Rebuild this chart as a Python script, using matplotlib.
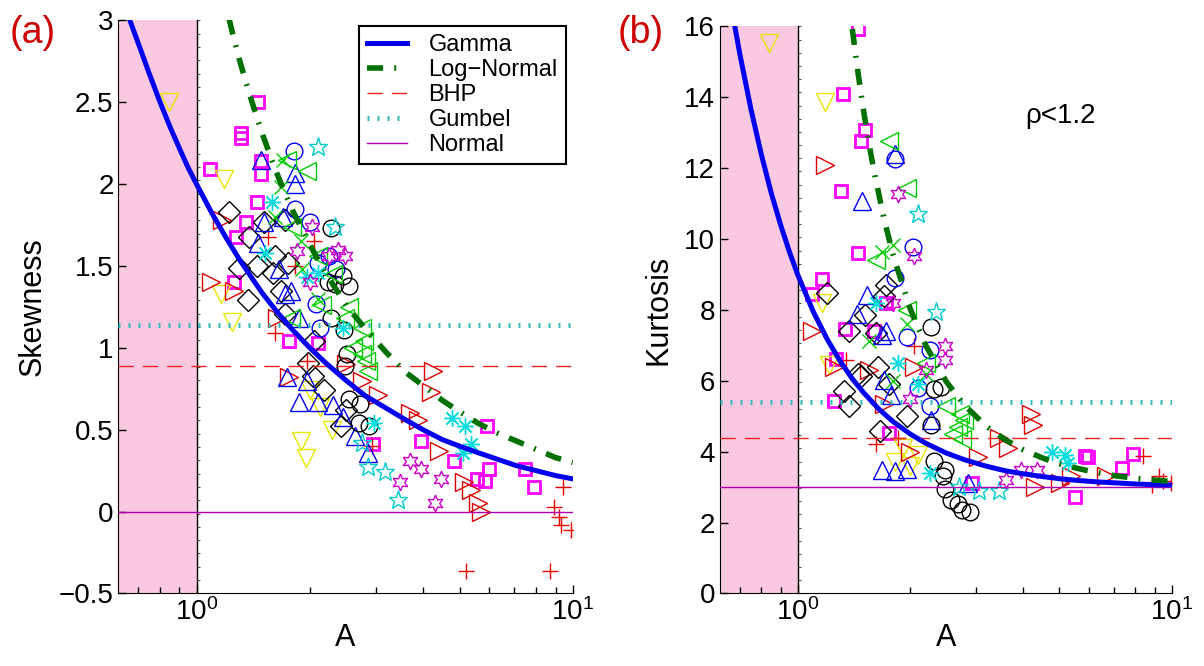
import math
import matplotlib
matplotlib.use('Agg')
import matplotlib.pyplot as plt

plt.rcParams['font.family'] = ['Liberation Sans', 'DejaVu Sans']
plt.rcParams['mathtext.fontset'] = 'custom'
plt.rcParams['mathtext.rm'] = 'Liberation Sans'

# ---- theoretical curves ----
gamma_skew_A = [0.665, 0.7, 0.75, 0.8, 0.85, 0.9, 0.95, 1.0, 1.1, 1.2, 1.3, 1.4, 1.5, 1.65, 1.8,
                2.0, 2.2, 2.5, 2.8, 3.2, 3.6, 4.0, 4.5, 5.0, 5.6, 6.3, 7.1, 8.0, 9.0, 10.0]
gamma_skew = [3.0, 2.86, 2.67, 2.5, 2.35, 2.22, 2.1, 2.0, 1.82, 1.67, 1.54, 1.43, 1.33, 1.21, 1.11,
              1.0, 0.91, 0.8, 0.71, 0.63, 0.56, 0.5, 0.44, 0.4, 0.36, 0.32, 0.28, 0.25, 0.22, 0.2]
gamma_kurt_A = [0.68, 0.7, 0.75, 0.8, 0.85, 0.9, 0.95, 1.0, 1.1, 1.2, 1.3, 1.4, 1.5, 1.65, 1.8,
                2.0, 2.2, 2.5, 2.8, 3.2, 3.6, 4.0, 4.5, 5.0, 5.6, 6.3, 7.1, 8.0, 9.0, 10.0]
gamma_kurt = [15.98, 15.24, 13.67, 12.38, 11.30, 10.41, 9.65, 9.0, 7.96, 7.17, 6.55, 6.06, 5.67, 5.20, 4.85,
              4.5, 4.24, 3.96, 3.77, 3.59, 3.46, 3.38, 3.30, 3.24, 3.19, 3.15, 3.12, 3.09, 3.07, 3.06]
logn_skew_A = [1.22, 1.25, 1.3, 1.35, 1.4, 1.5, 1.6, 1.7, 1.8, 2.0, 2.2, 2.5, 2.8, 3.2, 3.6,
               4.0, 4.5, 5.0, 5.6, 6.3, 7.1, 8.0, 9.0, 10.0]
logn_skew = [3.01, 2.91, 2.76, 2.63, 2.51, 2.30, 2.12, 1.97, 1.84, 1.63, 1.46, 1.26, 1.12, 0.97, 0.85,
             0.77, 0.68, 0.61, 0.54, 0.48, 0.43, 0.38, 0.33, 0.30]
logn_kurt_A = [1.40, 1.45, 1.5, 1.55, 1.6, 1.7, 1.8, 2.0, 2.2, 2.5, 2.8, 3.2, 3.6, 4.0, 4.5,
               5.0, 5.6, 6.3, 7.1, 8.0, 9.0, 10.0]
logn_kurt = [15.93, 14.70, 13.64, 12.72, 11.92, 10.60, 9.55, 8.03, 7.00, 5.97, 5.30, 4.71, 4.33, 4.06, 3.83,
             3.66, 3.53, 3.41, 3.32, 3.25, 3.20, 3.16]
bhp_skew, gumbel_skew, normal_skew = 0.89, 1.14, 0.0
bhp_kurt, gumbel_kurt, normal_kurt = 4.4, 5.4, 3.0

# ---- data points, panel (a): skewness ----
sq_a_A = [1.455, 1.315, 1.315, 1.086, 1.48, 1.48, 1.45, 1.35, 1.27, 1.26, 1.76, 2.1, 2.95, 3.94, 4.83,
          5.93, 5.57, 5.84, 5.98, 7.46, 7.87]
sq_a_S = [2.50, 2.31, 2.28, 2.09, 2.14, 2.06, 1.89, 1.77, 1.68, 1.40, 1.04, 1.03, 0.41, 0.43, 0.31,
          0.52, 0.20, 0.19, 0.26, 0.26, 0.15]
yv_a_A = [0.843, 1.18, 1.16, 1.24, 1.89, 1.95, 2.0, 2.13, 2.29]
yv_a_S = [2.50, 2.03, 1.33, 1.16, 0.43, 0.33, 0.74, 0.64, 0.50]
rr_a_A = [1.09, 1.26, 1.17, 1.64, 1.76, 2.75, 3.03, 3.69, 3.87, 4.25, 4.2, 4.4, 5.13, 5.37, 5.6, 5.7, 2.5]
rr_a_S = [1.40, 1.35, 1.78, 1.18, 0.82, 0.80, 0.71, 0.60, 0.56, 0.86, 0.73, 0.37, 0.18, 0.13, 0.05, 0.0, 0.9]
rp_a_A = [5.19, 8.69, 9.4, 8.9, 9.2, 9.3, 9.9, 2.92, 2.05, 1.83, 1.55, 1.96, 1.62]
rp_a_S = [-0.36, -0.36, 0.15, 0.03, -0.03, -0.08, -0.11, 0.40, 1.65, 1.50, 1.68, 0.92, 1.09]
kd_a_A = [1.22, 1.38, 1.30, 1.37, 1.51, 1.62, 1.60, 1.72, 1.68, 1.72, 2.05, 1.98, 2.04, 2.18, 2.42, 2.5,
          1.45, 1.75]
kd_a_S = [1.83, 1.68, 1.49, 1.29, 1.77, 1.56, 1.46, 1.78, 1.35, 1.21, 1.04, 0.91, 0.83, 0.74, 0.52, 0.62,
          1.50, 1.52]
bt_a_A = [1.48, 1.83, 1.83, 1.70, 1.51, 1.46, 1.66, 1.78, 1.72, 1.87, 1.74, 1.96, 1.87, 2.10, 2.31, 2.63,
          2.85, 2.45]
bt_a_S = [2.15, 2.07, 2.0, 1.80, 1.77, 1.64, 1.48, 1.35, 1.33, 1.18, 0.82, 0.80, 0.67, 0.67, 0.65, 0.46,
          0.36, 0.58]
bo_a_A = [1.82, 1.83, 2.0, 2.08, 2.13, 2.25, 2.1, 2.35]
bo_a_S = [2.20, 1.85, 1.77, 1.27, 1.12, 1.56, 1.52, 1.48]
ko_a_A = [2.28, 2.24, 2.33, 2.45, 2.54, 2.28, 2.46, 2.51, 2.48, 2.54, 2.72, 2.71, 2.88]
ko_a_S = [1.73, 1.40, 1.39, 1.44, 1.38, 1.18, 1.11, 0.96, 0.89, 0.69, 0.66, 0.54, 0.52]
gl_a_A = [1.96, 1.74, 1.79, 2.1, 2.15, 2.54, 2.75, 2.79, 2.75, 2.85, 2.82, 2.48, 1.78, 2.3, 2.6]
gl_a_S = [2.08, 2.15, 1.74, 1.56, 1.26, 1.25, 1.12, 1.04, 0.96, 0.86, 0.92, 1.18, 1.18, 1.45, 1.0]
gx_a_A = [1.68, 1.70, 1.62, 1.91, 2.1, 1.9]
gx_a_S = [1.98, 2.15, 1.80, 1.48, 1.30, 1.65]
ca_a_A = [1.59, 1.52, 2.1, 1.96, 4.78, 5.18, 5.37, 5.12, 2.96, 2.45]
ca_a_S = [1.89, 1.58, 1.46, 1.43, 0.57, 0.52, 0.41, 0.36, 0.54, 1.12]
cs_a_A = [2.1, 2.34, 2.85, 3.17, 3.44, 2.75]
cs_a_S = [2.23, 1.74, 0.27, 0.24, 0.07, 0.42]
mh_a_A = [2.03, 1.85, 2.25, 2.48, 2.38, 3.69, 3.96, 3.48, 4.46, 4.3, 2.0]
mh_a_S = [1.74, 1.59, 1.56, 1.56, 1.60, 0.31, 0.26, 0.18, 0.20, 0.05, 1.40]

# ---- data points, panel (b): kurtosis ----
sq_b_A = [1.45, 1.32, 1.51, 1.48, 1.31, 1.45, 1.16, 1.09, 1.34, 1.25, 1.60, 1.75, 5.52, 5.85, 5.99,
          7.35, 7.86, 2.92, 1.27, 1.72]
sq_b_K = [15.93, 14.1, 13.07, 12.77, 11.35, 9.61, 8.86, 8.46, 7.45, 5.42, 7.41, 4.54, 2.71, 3.88, 3.86,
          3.55, 3.94, 3.13, 6.63, 8.2]
yv_b_A = [0.84, 1.18, 1.16, 1.21, 1.91, 1.82, 2.1, 2.0]
yv_b_K = [15.54, 13.86, 8.2, 6.45, 4.1, 3.7, 3.9, 3.6]
rr_b_A = [1.18, 1.09, 1.25, 1.70, 2.0, 2.05, 4.21, 4.27, 3.66, 3.45, 3.03, 4.31, 5.02, 5.39, 6.67, 1.55]
rr_b_K = [12.1, 7.4, 6.4, 5.36, 3.98, 6.4, 5.06, 4.76, 4.1, 4.4, 3.86, 3.01, 3.13, 3.31, 3.31, 6.3]
rp_b_A = [8.85, 9.24, 9.5, 9.94, 8.4, 2.05, 1.62, 1.85, 1.35]
rp_b_K = [3.07, 3.31, 3.16, 3.13, 3.88, 6.99, 4.22, 4.4, 6.6]
kd_b_A = [1.2, 1.37, 1.51, 1.72, 1.70, 1.62, 1.33, 1.37, 1.48, 1.64, 1.66, 1.96, 1.75, 1.45]
kd_b_K = [8.49, 7.41, 7.86, 8.7, 8.4, 7.35, 5.72, 5.30, 6.14, 6.39, 4.58, 5.0, 5.9, 6.2]
bt_b_A = [1.82, 1.49, 1.53, 1.44, 1.72, 1.68, 1.70, 1.78, 1.68, 1.82, 1.96, 2.85, 2.28]
bt_b_K = [12.4, 11.08, 8.43, 7.89, 7.41, 7.3, 6.02, 5.6, 3.49, 3.45, 3.5, 3.13, 4.9]
bo_b_A = [1.82, 2.03, 1.82, 1.96, 2.26, 2.26, 2.1]
bo_b_K = [12.27, 9.78, 8.9, 7.23, 6.87, 5.3, 5.8]
ko_b_A = [2.28, 2.31, 2.42, 2.28, 2.31, 2.48, 2.45, 2.48, 2.57, 2.69, 2.75, 2.89]
ko_b_K = [7.53, 5.78, 5.84, 4.76, 3.73, 3.49, 3.31, 2.95, 2.65, 2.53, 2.35, 2.29]
gl_b_A = [1.76, 1.96, 1.62, 1.96, 2.72, 2.69, 2.75, 2.6, 2.78, 2.2, 2.5]
gl_b_K = [12.77, 11.45, 9.4, 8.0, 5.06, 4.7, 4.35, 4.5, 4.9, 6.5, 5.3]
gx_b_A = [1.80, 1.68, 1.55, 1.80, 1.96, 2.2]
gx_b_K = [9.82, 9.64, 7.11, 6.0, 7.6, 6.2]
ca_b_A = [4.79, 5.2, 5.27, 2.26, 1.62, 1.85, 2.1]
ca_b_K = [3.98, 3.92, 3.67, 3.4, 8.2, 6.5, 5.9]
cs_b_A = [2.1, 2.34, 3.06, 3.45, 2.7]
cs_b_K = [10.72, 7.95, 2.89, 2.89, 3.0]
mh_b_A = [1.85, 2.05, 1.80, 2.48, 2.48, 2.2, 3.96, 4.36, 3.6, 2.0]
mh_b_K = [11.27, 9.52, 8.2, 6.99, 6.6, 6.3, 3.49, 3.49, 3.2, 5.5]

xmin, xmax = 0.62, 10.0

# marker groups: (marker, colour, size, edge width)
styles = {
    'sq': ('s', '#ff00ff', 8.5, 2.0),
    'yv': ('v', '#e6e600', 13, 1.0),
    'rr': ('>', '#dd0000', 13, 1.0),
    'rp': ('+', '#ee0000', 11, 1.0),
    'kd': ('D', 'black', 11, 1.0),
    'bt': ('^', '#0000ee', 13, 1.0),
    'bo': ('o', '#0000ee', 12, 1.0),
    'ko': ('o', 'black', 12, 1.0),
    'gl': ('<', '#00cc00', 13, 1.0),
    'gx': ('x', '#00cc00', 10, 1.0),
    'ca': ((8, 2, 0), '#00dddd', 12, 1.0),
    'cs': ('*', '#00cccc', 14, 1.0),
    'mh': ((6, 1, 0), '#cc00cc', 12, 1.0),
}
points_a = {'sq': (sq_a_A, sq_a_S), 'yv': (yv_a_A, yv_a_S), 'rr': (rr_a_A, rr_a_S), 'rp': (rp_a_A, rp_a_S),
            'kd': (kd_a_A, kd_a_S), 'bt': (bt_a_A, bt_a_S), 'bo': (bo_a_A, bo_a_S), 'ko': (ko_a_A, ko_a_S),
            'gl': (gl_a_A, gl_a_S), 'gx': (gx_a_A, gx_a_S), 'ca': (ca_a_A, ca_a_S), 'cs': (cs_a_A, cs_a_S),
            'mh': (mh_a_A, mh_a_S)}
points_b = {'sq': (sq_b_A, sq_b_K), 'yv': (yv_b_A, yv_b_K), 'rr': (rr_b_A, rr_b_K), 'rp': (rp_b_A, rp_b_K),
            'kd': (kd_b_A, kd_b_K), 'bt': (bt_b_A, bt_b_K), 'bo': (bo_b_A, bo_b_K), 'ko': (ko_b_A, ko_b_K),
            'gl': (gl_b_A, gl_b_K), 'gx': (gx_b_A, gx_b_K), 'ca': (ca_b_A, ca_b_K), 'cs': (cs_b_A, cs_b_K),
            'mh': (mh_b_A, mh_b_K)}

fig = plt.figure(figsize=(12.04, 6.66), dpi=100)
ax1 = fig.add_axes([0.0984, 0.1089, 0.3773, 0.8604])
ax2 = fig.add_axes([0.598, 0.1089, 0.3751, 0.8514])


def draw_panel(ax, pts, g_A, g_y, l_A, l_y, bhp, gum, nor, ylim, yticks):
    ax.set_xscale('log')
    ax.set_xlim(xmin, xmax)
    ax.set_ylim(*ylim)
    ax.axvspan(xmin, 1.0, color='#fac8e1', lw=0, zorder=0)
    for key, (xs, ys) in pts.items():
        m, c, s, w = styles[key]
        ax.plot(xs, ys, ls='none', marker=m, mfc='none', mec=c, ms=s, mew=w, zorder=2)
    h1, = ax.plot(g_A, g_y, color='#0000ee', lw=3.6, zorder=4, label='Gamma')
    h2, = ax.plot(l_A, l_y, color='#007000', lw=4.0, zorder=4, dashes=(2.9, 2.0, 0.35, 2.0),
                  label='Log\u2212Normal')
    h3 = ax.axhline(bhp, color='#ee2222', lw=1.0, dashes=(11, 6.5), zorder=3, label='BHP')
    h4 = ax.axhline(gum, color='#33bbbb', lw=3.6, dashes=(0.4, 1.6), zorder=3, label='Gumbel')
    h5 = ax.axhline(nor, color='#b000b0', lw=1.0, zorder=3, label='Normal')
    ax.set_yticks(yticks)
    ax.set_xticks([1, 10])
    ax.spines['top'].set_visible(False)
    ax.spines['right'].set_visible(False)
    ax.tick_params(which='both', direction='in', labelsize=20, width=1)
    ax.tick_params(which='major', length=6)
    ax.tick_params(which='minor', length=4)
    ax.tick_params(axis='y', which='minor', left=False)
    ax.set_xlabel('A', fontsize=22, labelpad=-2)
    # black line at A = 1 carrying small ticks, as in the original
    loc = -math.log10(xmin) / (1 - math.log10(xmin))
    sec = ax.secondary_yaxis(loc)
    sec.spines['left'].set_linewidth(1.0)
    step = (ylim[1] - ylim[0]) / 43
    sec.set_yticks([ylim[0] + step * i for i in range(44)])
    sec.tick_params(direction='in', length=2.5, labelleft=False, width=0.8, color='#555555')
    return [h1, h2, h3, h4, h5]


handles = draw_panel(ax1, points_a, gamma_skew_A, gamma_skew, logn_skew_A, logn_skew,
                     bhp_skew, gumbel_skew, normal_skew, (-0.5, 3.0),
                     [-0.5, 0, 0.5, 1, 1.5, 2, 2.5, 3])
ax1.set_yticklabels(['\u22120.5', '0', '0.5', '1', '1.5', '2', '2.5', '3'])
ax1.set_ylabel('Skewness', fontsize=22, labelpad=8)

draw_panel(ax2, points_b, gamma_kurt_A, gamma_kurt, logn_kurt_A, logn_kurt,
           bhp_kurt, gumbel_kurt, normal_kurt, (0, 16),
           [0, 2, 4, 6, 8, 10, 12, 14, 16])
ax2.set_ylabel('Kurtosis', fontsize=22, labelpad=8)

leg = ax1.legend(handles=handles, loc='upper right', bbox_to_anchor=(0.985, 0.99), fontsize=17,
                 frameon=True, fancybox=False, edgecolor='black', framealpha=1,
                 handlelength=1.7, handletextpad=0.9, labelspacing=0.12, borderpad=0.35,
                 borderaxespad=0)
leg.get_frame().set_linewidth(1.5)
leg.set_zorder(10)

fig.text(0.008, 0.935, '(a)', color='#cc0000', fontsize=27)
fig.text(0.513, 0.935, '(b)', color='#cc0000', fontsize=27)
ax2.text(0.675, 0.83, '\u03c1<1.2', transform=ax2.transAxes, fontsize=20)

fig.savefig('out.png', dpi=100)
